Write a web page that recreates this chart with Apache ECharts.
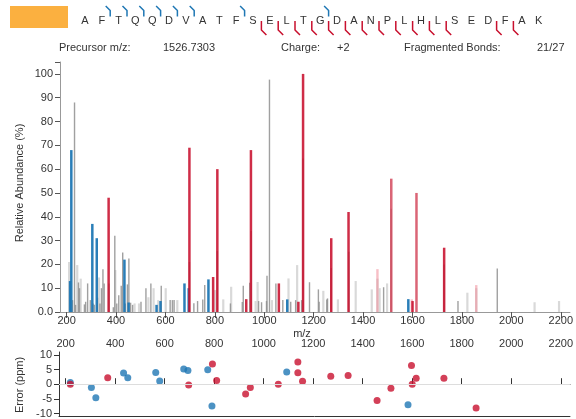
<!DOCTYPE html>
<html>
<head>
<meta charset="utf-8">
<script src="https://cdn.jsdelivr.net/npm/echarts@6/dist/echarts.min.js"></script>
<style>
  html, body { margin: 0; padding: 0; background: #fff; }
  #chart { width: 576px; height: 419px; }
</style>
</head>
<body>
<div id="chart"></div>
<script>
// Peptide and fragmentation summary
const sequence = 'AFTQQDVATFSELTGDANPLHLSEDFAK'.split('');
const bIonBonds = [2, 3, 4, 5, 6, 7, 10, 15];
const yIonBonds = [11, 12, 13, 14, 15, 16, 17, 18, 19, 20, 21, 22, 25, 26];
const precursorMz = '1526.7303';
const precursorCharge = '+2';
const fragmentedBonds = '21/27';

// Axis ticks
const mzTicks = [200, 400, 600, 800, 1000, 1200, 1400, 1600, 1800, 2000, 2200];
const abundanceTicks = [0, 10, 20, 30, 40, 50, 60, 70, 80, 90, 100];
const errorTicks = [-10, -5, 0, 5, 10];

// Spectrum peaks: [m/z, relative abundance %]
const faintPeaks = [
  [210, 21], [243, 19.7], [257, 14], [331, 14.5], [397, 17.6], [475, 3.6], [493, 3.6],
  [531, 6.2], [552, 10], [571, 5], [601, 10], [648, 5], [801, 9.2], [834, 5.3], [866, 10.6],
  [965, 4.6], [973, 12.6], [1031, 5], [1098, 14.1], [1133, 19.7], [1239, 8.9], [1298, 5.3],
  [1370, 13], [1435, 9.5], [1458, 14], [1467, 10], [1497, 12], [1822, 8.1], [1858, 10],
  [2094, 4.1], [2193, 4.6]
];
const unassignedPeaks = [
  [224, 5], [232, 88], [236, 3], [248, 12.4], [252, 10], [272, 3.2], [277, 4.3], [285, 12],
  [296, 5], [307, 3.6], [312, 3], [325, 6], [335, 3.6], [341, 10], [347, 18], [352, 12],
  [371, 12], [389, 2], [395, 32], [403, 3.6], [411, 7], [421, 11], [427, 25], [437, 3.6],
  [446, 11.6], [452, 22.5], [459, 3.9], [467, 3], [501, 4.3], [521, 10], [541, 12], [583, 11],
  [619, 5], [628, 5], [635, 5], [697, 21], [715, 3.7], [730, 4.6], [751, 5.3], [759, 11.3],
  [810, 25.6], [863, 3.6], [911, 4.2], [915, 11], [941, 12.3], [947, 34], [977, 4.6],
  [989, 4.1], [1009, 4.6], [1011, 15.2], [1021, 97.6], [1047, 12], [1075, 5], [1107, 4.3],
  [1127, 5], [1151, 5], [1157, 64.5], [1183, 12.5], [1219, 9.5], [1222, 4.3], [1253, 5.3],
  [1256, 5.7], [1271, 18.5], [1342, 25.3], [1483, 10.4], [1514, 43.4], [1728, 20],
  [1784, 4.6], [1943, 18.3]
];
const bIonPeaks = [
  [214, 13], [219, 68], [304, 37], [322, 31], [434, 22], [451, 4], [564, 3], [580, 4.6],
  [677, 12], [694, 10], [774, 13.7], [1093, 5.3], [1583, 5.4]
];
const yIonPeaks = [
  [370, 48], [697, 69], [793, 14.7], [810, 60], [927, 5.4], [946, 68], [1059, 12],
  [1138, 4.3], [1157, 100], [1271, 31], [1341, 42], [1600, 4.6], [1728, 27]
];
const yIonPalePeaks = [[1514, 56], [1616, 50]];
const yIonFaintPeaks = [[1458, 18], [1597, 5.3], [1858, 11.3]];

// Mass error of matched fragments: [m/z, ppm]
const bIonErrors = [
  [219, 0.6], [304, -1.1], [322, -4.6], [434, 3.8], [451, 2.2], [564, 4.0], [580, 1.1],
  [677, 5.2], [694, 4.7], [774, 4.9], [791, -7.4], [1093, 4.2], [1583, -7.0]
];
const yIonErrors = [
  [219, 0], [370, 2.2], [697, -0.3], [793, 6.9], [810, 1.3], [927, -3.3], [946, -1.1],
  [1059, 0], [1138, 7.6], [1138, 3.9], [1157, 1.0], [1271, 2.7], [1341, 3.0], [1458, -5.6],
  [1514, -1.4], [1597, 6.4], [1600, 0], [1616, 2.0], [1728, 2.0], [1858, -8.1]
];

const FONT = '"Liberation Sans", Arial, sans-serif';
const TEXT = '#333';
const BLUE = '#1f77b4';
const RED = '#c8102e';
const MZ_MIN = 173.2, MZ_MAX = 2237.2;

function stick(width, color, opacity) {
  return function (params, api) {
    const top = api.coord([api.value(0), api.value(1)]);
    const base = api.coord([api.value(0), 0]);
    return {
      type: 'rect',
      shape: { x: top[0] - width / 2, y: top[1], width: width, height: base[1] - top[1] },
      style: { fill: color, opacity: opacity }
    };
  };
}
function peakSeries(data, width, color, opacity) {
  return {
    type: 'custom', coordinateSystem: 'cartesian2d', xAxisIndex: 0, yAxisIndex: 0,
    data: data, renderItem: stick(width, color, opacity), silent: true
  };
}
const plain = function (v) { return String(v); };

// Sequence layout
const seqX0 = 85, seqStep = 16.8, seqY = 21;
const graphics = [
  { type: 'rect', shape: { x: 10, y: 6, width: 58, height: 22 }, style: { fill: '#fbb040' } }
];
sequence.forEach(function (aa, i) {
  graphics.push({
    type: 'text', x: seqX0 + i * seqStep, y: seqY,
    style: { text: aa, fill: TEXT, font: '11px ' + FONT, align: 'center', verticalAlign: 'middle',
             textAlign: 'center', textVerticalAlign: 'middle' }
  });
});
bIonBonds.forEach(function (k) {
  const xb = seqX0 + (k - 0.5) * seqStep;
  graphics.push({
    type: 'polyline',
    shape: { points: [[xb - 4.5, 6], [xb, 10.5], [xb, 16.5]] },
    style: { stroke: BLUE, lineWidth: 1.5, fill: null, lineJoin: 'round' }
  });
});
yIonBonds.forEach(function (k) {
  const xb = seqX0 + (k - 0.5) * seqStep;
  graphics.push({
    type: 'polyline',
    shape: { points: [[xb, 21], [xb, 30], [xb + 5, 35]] },
    style: { stroke: RED, lineWidth: 1.5, fill: null, lineJoin: 'round' }
  });
});
function label(text, x, y) {
  return {
    type: 'text', x: x, y: y,
    style: { text: text, fill: TEXT, font: '11px ' + FONT, align: 'left', verticalAlign: 'middle',
             textAlign: 'left', textVerticalAlign: 'middle' }
  };
}
graphics.push(label('Precursor m/z:', 59, 48));
graphics.push(label(precursorMz, 163, 48));
graphics.push(label('Charge:', 281, 48));
graphics.push(label(precursorCharge, 337, 48));
graphics.push(label('Fragmented Bonds:', 404, 48));
graphics.push(label(fragmentedBonds, 537, 48));
graphics.push({
  type: 'text', x: 302, y: 334,
  style: { text: 'm/z', fill: TEXT, font: '11px ' + FONT, align: 'center', verticalAlign: 'middle',
           textAlign: 'center', textVerticalAlign: 'middle' }
});
graphics.push({
  type: 'text', x: 20, y: 183, rotation: Math.PI / 2,
  style: { text: 'Relative Abundance (%)', fill: TEXT, font: '11px ' + FONT, align: 'center',
           verticalAlign: 'middle', textAlign: 'center', textVerticalAlign: 'middle' }
});
graphics.push({
  type: 'text', x: 20, y: 385, rotation: Math.PI / 2,
  style: { text: 'Error (ppm)', fill: TEXT, font: '11px ' + FONT, align: 'center',
           verticalAlign: 'middle', textAlign: 'center', textVerticalAlign: 'middle' }
});

const axisText = { color: TEXT, fontSize: 11, fontFamily: FONT };

const chart = echarts.init(document.getElementById('chart'), null, { renderer: 'canvas' });
chart.setOption({
  animation: false,
  graphic: { elements: graphics },
  grid: [
    { left: 60, right: 0, top: 62, height: 250 },
    { left: 59, right: 0, top: 352, height: 66 }
  ],
  xAxis: [
    {
      gridIndex: 0, type: 'value', min: MZ_MIN, max: MZ_MAX, position: 'bottom',
      axisLine: { lineStyle: { color: '#999' } },
      axisTick: { show: true, customValues: mzTicks, length: 6, lineStyle: { color: '#555' } },
      axisLabel: Object.assign({ customValues: mzTicks, margin: 3, formatter: plain }, axisText),
      splitLine: { show: false }
    },
    {
      gridIndex: 1, type: 'value', min: MZ_MIN, max: MZ_MAX, position: 'top',
      axisLine: { lineStyle: { color: '#333' } },
      axisTick: { show: true, customValues: mzTicks, length: 6, lineStyle: { color: '#333' } },
      axisLabel: Object.assign({ customValues: mzTicks, margin: 3, formatter: plain }, axisText),
      splitLine: { show: false }
    },
    {
      gridIndex: 1, type: 'value', min: MZ_MIN, max: MZ_MAX, position: 'bottom',
      axisLine: { lineStyle: { color: '#333' } },
      axisTick: { show: false }, axisLabel: { show: false }, splitLine: { show: false }
    }
  ],
  yAxis: [
    {
      gridIndex: 0, type: 'value', min: 0, max: 105,
      axisLine: { show: true, lineStyle: { color: '#999' } },
      axisTick: { show: true, customValues: abundanceTicks.concat([105]), length: 5, lineStyle: { color: '#555' } },
      axisLabel: Object.assign({
        customValues: abundanceTicks, margin: 7,
        formatter: function (v) { return v === 0 ? '0.0' : String(v); }
      }, axisText),
      splitLine: { show: false }
    },
    {
      gridIndex: 1, type: 'value', min: -11, max: 11,
      axisLine: { show: true, lineStyle: { color: '#333' } },
      axisTick: { show: true, customValues: errorTicks, length: 5, lineStyle: { color: '#333' } },
      axisLabel: Object.assign({ customValues: errorTicks, margin: 7, formatter: plain }, axisText),
      splitLine: { show: false }
    }
  ],
  series: [
    peakSeries(faintPeaks, 2.2, '#d9d9d9', 1),
    peakSeries(unassignedPeaks, 1.4, '#8f8f8f', 0.85),
    peakSeries(yIonFaintPeaks, 2.4, '#f08a98', 0.55),
    peakSeries(bIonPeaks, 2.5, BLUE, 0.95),
    peakSeries(yIonPeaks, 2.5, RED, 0.88),
    peakSeries(yIonPalePeaks, 2.5, '#d44a5e', 0.85),
    {
      type: 'scatter', xAxisIndex: 1, yAxisIndex: 1, data: bIonErrors, symbolSize: 7,
      itemStyle: { color: BLUE }, silent: true, z: 3,
      markLine: {
        silent: true, symbol: ['none', 'none'], label: { show: false },
        lineStyle: { color: '#dddddd', type: 'solid', width: 1 },
        data: [{ yAxis: 0 }]
      }
    },
    {
      type: 'scatter', xAxisIndex: 1, yAxisIndex: 1, data: yIonErrors, symbolSize: 7,
      itemStyle: { color: RED }, silent: true, z: 3
    }
  ]
});
</script>
</body>
</html>
